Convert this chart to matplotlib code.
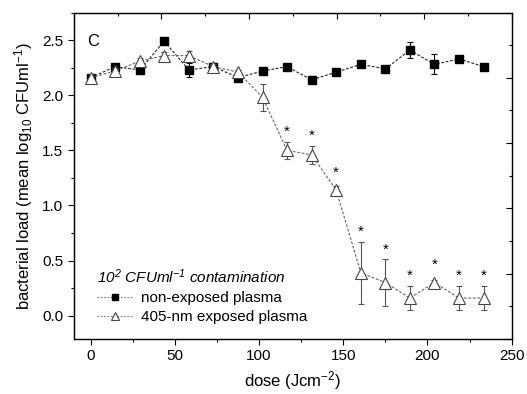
"""Bacterial load vs 405-nm dose in plasma (panel C)."""

import matplotlib

matplotlib.use("Agg")
import matplotlib.pyplot as plt
from matplotlib.lines import Line2D
from matplotlib.ticker import FormatStrFormatter, MultipleLocator

plt.rcParams["font.family"] = ["Liberation Sans", "DejaVu Sans"]
plt.rcParams["mathtext.fontset"] = "custom"
plt.rcParams["mathtext.rm"] = "Liberation Sans"
plt.rcParams["mathtext.it"] = "Liberation Sans:italic"
plt.rcParams["mathtext.default"] = "regular"

# dose in J/cm2
dose = [0, 14.6, 29.2, 43.7, 58.3, 72.9, 87.5, 102.1, 116.6,
        131.2, 145.8, 160.4, 175.0, 189.6, 204.1, 218.7, 233.3]

control_mean = [2.16, 2.26, 2.23, 2.49, 2.23, 2.26, 2.16, 2.22, 2.26,
                2.14, 2.21, 2.28, 2.24, 2.41, 2.28, 2.33, 2.26]
control_err = [0.03, 0.02, 0.04, 0.02, 0.06, 0.02, 0.02, 0.02, 0.02,
               0.03, 0.02, 0.02, 0.02, 0.07, 0.09, 0.02, 0.02]

exposed_mean = [2.16, 2.22, 2.31, 2.36, 2.36, 2.26, 2.21, 1.98, 1.50,
                1.46, 1.14, 0.39, 0.30, 0.16, 0.30, 0.16, 0.16]
exposed_err = [0.03, 0.03, 0.03, 0.03, 0.04, 0.02, 0.02, 0.12, 0.08,
               0.08, 0.04, 0.28, 0.21, 0.11, 0.02, 0.11, 0.11]

# points flagged as significant (asterisk)
significant = [False] * 8 + [True] * 9

DASH = (0, (2.5, 1.5))


def main() -> int:
    fig = plt.figure(figsize=(5.27, 3.94), dpi=100)
    ax = fig.add_axes([0.140, 0.140, 0.831, 0.828])

    ax.errorbar(dose, control_mean, yerr=control_err, color="#222222", ecolor="black",
                marker="s", markersize=6, markerfacecolor="black", markeredgecolor="black",
                linestyle=DASH, linewidth=0.8, elinewidth=0.8, capsize=2.5,
                capthick=0.8, zorder=3)
    ax.errorbar(dose, exposed_mean, yerr=exposed_err, color="#666666", ecolor="#555555",
                marker="^", markersize=8, markerfacecolor="white", markeredgecolor="#444444",
                markeredgewidth=0.8, linestyle=DASH, linewidth=0.8, elinewidth=0.8,
                capsize=2.5, capthick=0.8, zorder=4)

    for x, y, e, sig in zip(dose, exposed_mean, exposed_err, significant):
        if sig:
            ax.annotate("*", (x, y + max(e, 0.07)), xytext=(0, 2), textcoords="offset points",
                        ha="center", va="bottom", fontsize=11)

    ax.text(0.03, 0.91, "C", transform=ax.transAxes, fontsize=12, va="center", ha="left")

    ax.set_xlim(-10, 250)
    ax.set_ylim(-0.21, 2.75)
    ax.xaxis.set_major_locator(MultipleLocator(50))
    ax.xaxis.set_minor_locator(MultipleLocator(25))
    ax.yaxis.set_major_locator(MultipleLocator(0.5))
    ax.yaxis.set_minor_locator(MultipleLocator(0.25))
    ax.yaxis.set_major_formatter(FormatStrFormatter("%.1f"))
    ax.tick_params(which="major", direction="out", length=4, width=0.8, labelsize=11)
    ax.tick_params(which="minor", direction="out", length=2.5, width=0.8)
    for side in ax.spines.values():
        side.set_linewidth(0.9)

    ax.set_xlabel("dose (Jcm$^{-2}$)", fontsize=12, labelpad=4)
    ax.set_ylabel("bacterial load (mean log$_{10}$ CFUml$^{-1}$)", fontsize=12, labelpad=5)

    # mirrored top/right axes come from a separate 0-10 layer, unlabelled
    top = ax.twiny()
    top.set_xlim(0, 10)
    right = ax.twinx()
    right.set_ylim(0, 10)
    for twin, axis in ((top, top.xaxis), (right, right.yaxis)):
        axis.set_major_locator(MultipleLocator(2))
        axis.set_minor_locator(MultipleLocator(1))
        twin.tick_params(which="major", direction="in", length=4, width=0.8,
                         labeltop=False, labelright=False, labelbottom=False, labelleft=False)
        twin.tick_params(which="minor", direction="in", length=2.5, width=0.8)
    top.tick_params(axis="y", left=False, right=False, labelleft=False, labelright=False)
    right.tick_params(axis="x", top=False, bottom=False, labeltop=False, labelbottom=False)

    handles = [
        Line2D([], [], color="#777777", linestyle=(0, (1.5, 1.5)), linewidth=0.8,
               marker="s", markersize=5, markerfacecolor="black", markeredgecolor="black"),
        Line2D([], [], color="#777777", linestyle=(0, (1.5, 1.5)), linewidth=0.8,
               marker="^", markersize=6, markerfacecolor="white", markeredgecolor="#444444",
               markeredgewidth=0.8),
    ]
    labels = ["non-exposed plasma", "405-nm exposed plasma"]
    leg = ax.legend(handles, labels, loc="lower left", bbox_to_anchor=(0.045, 0.035),
                    frameon=False, title="10$^2$ CFUml$^{-1}$ contamination", fontsize=11,
                    title_fontproperties={"style": "italic", "size": 11},
                    handlelength=2.4, handletextpad=0.5, labelspacing=0.35,
                    borderpad=0.2, borderaxespad=0.0, alignment="left")
    leg.set_zorder(5)

    fig.savefig("out.png", dpi=100)
    plt.close(fig)
    return 0


if __name__ == "__main__":
    raise SystemExit(main())
